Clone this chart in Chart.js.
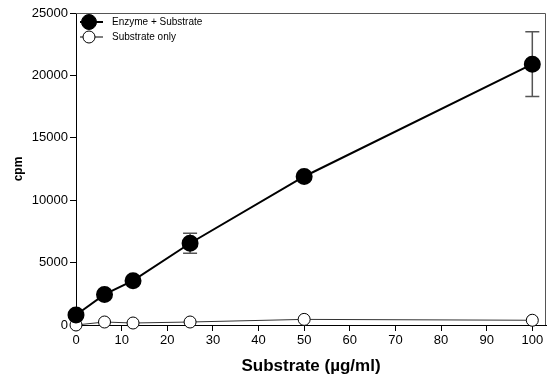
<!DOCTYPE html>
<html>
<head>
<meta charset="utf-8">
<script src="https://cdn.jsdelivr.net/npm/chart.js@4.4.1/dist/chart.umd.min.js"></script>
<style>
  html, body { margin: 0; padding: 0; background: #fff; }
  #wrap { width: 548px; height: 378px; }
</style>
</head>
<body>
<div id="wrap"><canvas id="chart" width="548" height="378"></canvas></div>
<script>
// substrate concentration (µg/ml)
const concentrations = [0, 6.25, 12.5, 25, 50, 100];
const enzymeCpm = [800, 2450, 3550, 6550, 11900, 20900];
const enzymeErr = [0, 0, 0, 800, 0, 2600];
const substrateCpm = [0, 240, 160, 240, 450, 380];
const yTicks = [0, 5000, 10000, 15000, 20000, 25000];
const xTicks = [0, 10, 20, 30, 40, 50, 60, 70, 80, 90, 100];

const FONT = "'Liberation Sans', Arial, sans-serif";

function toPoints(ys) {
  return concentrations.map((x, i) => ({ x: x, y: ys[i] }));
}

// box around plot + error bars + legend inside the plot
const extras = {
  id: "extras",
  beforeDatasetsDraw(chart) {
    const { ctx, chartArea: a, scales } = chart;
    ctx.save();
    ctx.strokeStyle = "#555";
    ctx.lineWidth = 1;
    ctx.beginPath();
    ctx.moveTo(a.left, a.top + 0.5);
    ctx.lineTo(a.right - 0.5, a.top + 0.5);
    ctx.lineTo(a.right - 0.5, a.bottom);
    ctx.stroke();

    // error bars
    ctx.lineWidth = 1.5;
    enzymeErr.forEach((e, i) => {
      if (!e) return;
      const x = scales.x.getPixelForValue(concentrations[i]);
      const hi = scales.y.getPixelForValue(enzymeCpm[i] + e);
      const lo = scales.y.getPixelForValue(enzymeCpm[i] - e);
      ctx.beginPath();
      ctx.moveTo(x, hi); ctx.lineTo(x, lo);
      ctx.moveTo(x - 7, hi); ctx.lineTo(x + 7, hi);
      ctx.moveTo(x - 7, lo); ctx.lineTo(x + 7, lo);
      ctx.stroke();
    });
    ctx.restore();
  },
  afterDraw(chart) {
    const { ctx, chartArea: a } = chart;
    ctx.save();
    ctx.font = "10px " + FONT;
    ctx.textBaseline = "middle";
    chart.data.datasets.forEach((ds, i) => {
      const cy = a.top + 9 + i * 15;
      const cx = a.left + 13;
      ctx.strokeStyle = "#000";
      ctx.lineWidth = ds.borderWidth;
      ctx.beginPath();
      ctx.moveTo(cx - 9, cy); ctx.lineTo(cx + 14, cy);
      ctx.stroke();
      ctx.beginPath();
      ctx.arc(cx, cy, ds.pointRadius, 0, Math.PI * 2);
      ctx.fillStyle = ds.pointBackgroundColor;
      ctx.fill();
      ctx.lineWidth = 1;
      ctx.stroke();
      ctx.fillStyle = "#000";
      ctx.fillText(ds.label, cx + 23, cy);
    });
    ctx.restore();
  }
};

new Chart(document.getElementById("chart"), {
  type: "scatter",
  data: {
    datasets: [
      {
        label: "Enzyme + Substrate",
        data: toPoints(enzymeCpm),
        showLine: true,
        borderColor: "#000",
        borderWidth: 2,
        pointRadius: 7.5,
        pointBackgroundColor: "#000",
        pointBorderColor: "#000",
        clip: false
      },
      {
        label: "Substrate only",
        data: toPoints(substrateCpm),
        showLine: true,
        borderColor: "#333",
        borderWidth: 1,
        pointRadius: 6,
        pointBackgroundColor: "#fff",
        pointBorderColor: "#000",
        pointBorderWidth: 1,
        clip: false
      }
    ]
  },
  options: {
    responsive: false,
    animation: false,
    layout: { autoPadding: false, padding: { top: 13, right: 2, left: 0, bottom: 0 } },
    plugins: { legend: { display: false }, tooltip: { enabled: false } },
    scales: {
      x: {
        type: "linear",
        min: 0,
        max: 103,
        afterBuildTicks: (s) => { s.ticks = xTicks.map(v => ({ value: v })); },
        afterFit: (s) => { s.height = 53; s.paddingLeft = 0; s.paddingRight = 0; },
        ticks: { color: "#000", font: { family: FONT, size: 13 }, padding: 2, maxRotation: 0,
                 callback: (v) => String(v) },
        grid: { drawOnChartArea: false, color: "#000", tickLength: 6 },
        border: { color: "#000", width: 1 },
        title: { display: true, text: "Substrate (µg/ml)", color: "#000",
                 font: { family: FONT, size: 17, weight: "bold" }, padding: { top: 4, bottom: 1 } }
      },
      y: {
        type: "linear",
        min: 0,
        max: 25000,
        afterBuildTicks: (s) => { s.ticks = yTicks.map(v => ({ value: v })); },
        afterFit: (s) => { s.width = 76; s.paddingTop = 0; s.paddingBottom = 0; },
        ticks: { color: "#000", font: { family: FONT, size: 13 }, padding: 2,
                 callback: (v) => String(v) },
        grid: { drawOnChartArea: false, color: "#000", tickLength: 6 },
        border: { color: "#000", width: 1 },
        title: { display: true, text: "cpm", color: "#000",
                 font: { family: FONT, size: 12, weight: "bold" }, padding: { top: 11, bottom: 0 } }
      }
    }
  },
  plugins: [extras]
});
</script>
</body>
</html>
